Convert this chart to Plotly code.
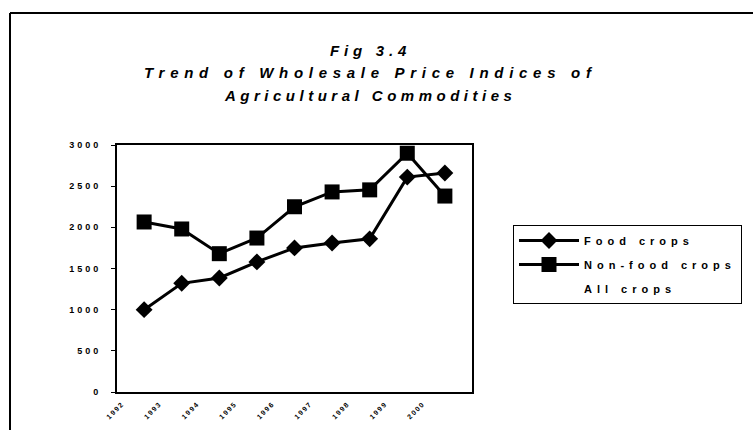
import plotly.graph_objects as go

# ---- data ----
years = ["1992", "1993", "1994", "1995", "1996", "1997", "1998", "1999", "2000"]
food_crops = [1000, 1320, 1385, 1580, 1750, 1810, 1860, 2610, 2660]
non_food_crops = [2065, 1980, 1680, 1870, 2250, 2430, 2455, 2900, 2380]
all_crops = [None] * 9
y_ticks = [0, 500, 1000, 1500, 2000, 2500, 3000]

FONT = "Liberation Sans"


def spaced(text, px):
    return f'<span style="letter-spacing:{px}px">{text}</span>'


# plot-area pixel geometry (753x430 canvas)
L, R, T, B = 117, 472, 145, 392
W, H = R - L, B - T


def px_x(x):
    return (x - L) / W


def px_y(y):
    return (B - y) / H


fig = go.Figure()
fig.add_trace(go.Scatter(
    x=years, y=food_crops, name=spaced("Food crops", 5), legendgroup="a",
    mode="lines+markers", line=dict(color="black", width=3),
    marker=dict(symbol="diamond", size=13, color="black"),
))
fig.add_trace(go.Scatter(
    x=years, y=non_food_crops, name=spaced("Non-food crops", 5), legendgroup="b",
    mode="lines+markers", line=dict(color="black", width=3),
    marker=dict(symbol="square", size=15, color="black"),
))
fig.add_trace(go.Scatter(
    x=years, y=all_crops, name=spaced("All crops", 5), legendgroup="c",
    mode="lines", line=dict(color="rgba(0,0,0,0)", width=3),
))

fig.update_layout(
    width=753, height=430,
    margin=dict(l=L, r=753 - R, t=T, b=430 - B, autoexpand=False),
    paper_bgcolor="white", plot_bgcolor="white",
    font=dict(family=FONT, color="black"),
    showlegend=True,
    legend=dict(
        x=px_x(513), y=px_y(225), xanchor="left", yanchor="top",
        bordercolor="black", borderwidth=1, bgcolor="white",
        font=dict(family=FONT, size=11, color="black", weight="bold"),
        itemwidth=60, tracegroupgap=5,
    ),
    xaxis=dict(
        type="category", showgrid=False, showline=True, linecolor="black",
        linewidth=2, mirror=True, ticks="", tickangle=-45, automargin=False,
        tickfont=dict(family=FONT, size=7, color="black", weight="bold"),
        tickvals=years, ticktext=[spaced(y, 1.5) for y in years],
        ticklabelshift=-22, ticklabelstandoff=3,
    ),
    yaxis=dict(
        range=[0, 3000], showgrid=False, showline=True, linecolor="black",
        linewidth=2, mirror=True, ticks="outside", ticklen=4, tickwidth=1,
        tickcolor="black", zeroline=False, automargin=False,
        tickvals=y_ticks, ticktext=[spaced(str(v), 3) for v in y_ticks],
        tickfont=dict(family=FONT, size=9, color="black", weight="bold"),
        ticklabelstandoff=8,
    ),
)

title_lines = [
    (spaced("Fig 3.4", 4.8), 50),
    (spaced("Trend of Wholesale Price Indices of", 5.7), 72),
    (spaced("Agricultural Commodities", 4.5), 95),
]
for txt, ypx in title_lines:
    fig.add_annotation(
        text=txt, xref="paper", yref="paper", x=px_x(370), y=px_y(ypx),
        xanchor="center", yanchor="middle", showarrow=False,
        font=dict(family=FONT, size=15, color="black", weight="bold", style="italic"),
    )

# outer chart-area frame (top and left edges visible in the scan)
fig.add_shape(type="line", xref="paper", yref="paper",
              x0=px_x(10), x1=px_x(760), y0=px_y(13), y1=px_y(13),
              line=dict(color="black", width=2))
fig.add_shape(type="line", xref="paper", yref="paper",
              x0=px_x(10), x1=px_x(10), y0=px_y(13), y1=px_y(440),
              line=dict(color="black", width=2))

fig.write_html("out.html", config={"displayModeBar": False},
               post_script="document.body.style.margin='0';")
